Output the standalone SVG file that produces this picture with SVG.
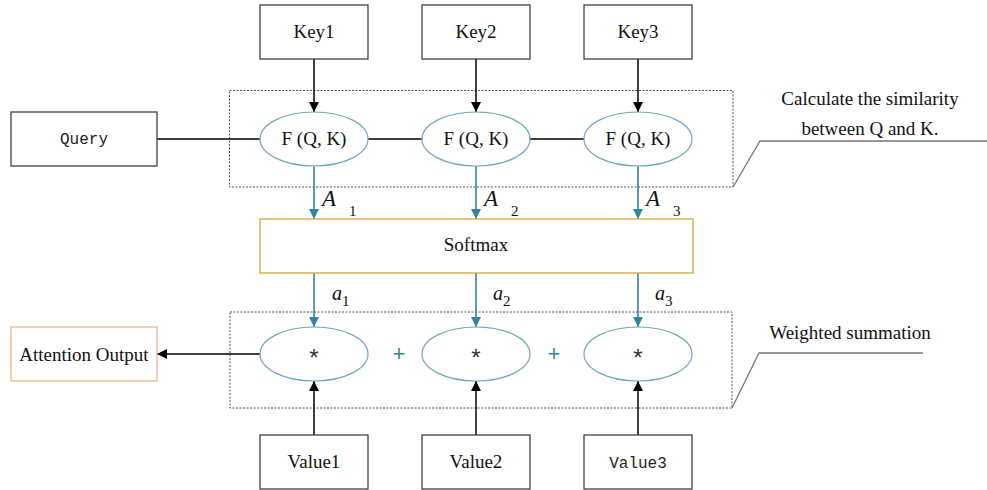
<svg xmlns="http://www.w3.org/2000/svg" width="987" height="490" viewBox="0 0 987 490">
<defs>
<marker id="ab" viewBox="0 0 10 10" refX="10" refY="5" markerWidth="10" markerHeight="10" markerUnits="userSpaceOnUse" orient="auto"><path d="M0,0 L10,5 L0,10 z" fill="#000"/></marker>
<marker id="at" viewBox="0 0 10 10" refX="10" refY="5" markerWidth="10" markerHeight="10" markerUnits="userSpaceOnUse" orient="auto"><path d="M0,0 L10,5 L0,10 z" fill="#31859C"/></marker>
</defs>
<style>
.box{fill:#fff;stroke:#404040;stroke-width:1.3}
.ell{fill:#fff;stroke:#6FA8BC;stroke-width:1.2}
.dash{fill:none;stroke:#555;stroke-width:1;stroke-dasharray:2,1.5}
.t{font-family:"Liberation Serif",serif;font-size:19px;fill:#111;text-anchor:middle}
.m{font-family:"Liberation Mono",monospace;font-size:16px;fill:#222;text-anchor:middle}
.k{stroke:#000;stroke-width:1.5;fill:none}
.c{stroke:#31859C;stroke-width:1.6;fill:none}
.it{font-family:"Liberation Serif",serif;font-style:italic;fill:#111}
.sub{font-family:"Liberation Serif",serif;font-size:15px;fill:#111}
.call{stroke:#777;stroke-width:1.3;fill:none}
.ast{font-family:"Liberation Mono",monospace;font-size:24px;fill:#333;text-anchor:middle}
.plus{font-family:"Liberation Sans",sans-serif;font-size:22px;fill:#31859C;text-anchor:middle}
</style>
<rect class="dash" x="229.5" y="90.5" width="503.5" height="96.5"/>
<rect class="dash" x="230" y="312" width="502" height="96"/>
<g id="connectors">
<path class="k" d="M314,59 V112" marker-end="url(#ab)"/>
<path class="k" d="M476,59 V112" marker-end="url(#ab)"/>
<path class="k" d="M638,59 V112" marker-end="url(#ab)"/>
<path class="k" d="M157,139 H260"/>
<path class="k" d="M368,139 H422"/>
<path class="k" d="M530,139 H584"/>
<path class="c" d="M314,166 V219" marker-end="url(#at)"/>
<path class="c" d="M476,166 V219" marker-end="url(#at)"/>
<path class="c" d="M638,166 V219" marker-end="url(#at)"/>
<path class="c" d="M314,273 V327" marker-end="url(#at)"/>
<path class="c" d="M476,273 V327" marker-end="url(#at)"/>
<path class="c" d="M638,273 V327" marker-end="url(#at)"/>
<path class="k" d="M260,354 H157" marker-end="url(#ab)"/>
<path class="k" d="M314,435 V381" marker-end="url(#ab)"/>
<path class="k" d="M476,435 V381" marker-end="url(#ab)"/>
<path class="k" d="M638,435 V381" marker-end="url(#ab)"/>
<path class="call" d="M733,187 L760,141 H987"/>
<path class="call" d="M732,408 L759,353 H923"/>
</g>
<g id="key1"><rect class="box" x="260" y="5" width="108" height="54"/><text class="t" x="314" y="38">Key1</text></g>
<g id="key2"><rect class="box" x="422" y="5" width="108" height="54"/><text class="t" x="476" y="38">Key2</text></g>
<g id="key3"><rect class="box" x="584" y="5" width="108" height="54"/><text class="t" x="638" y="38">Key3</text></g>
<g id="query"><rect class="box" x="11" y="112" width="146" height="54"/><text class="m" x="84" y="144">Query</text></g>
<g id="f1"><ellipse class="ell" cx="314" cy="139" rx="54" ry="27"/><text class="t" x="314" y="145" font-size="16">F (Q, K)</text></g>
<g id="f2"><ellipse class="ell" cx="476" cy="139" rx="54" ry="27"/><text class="t" x="476" y="145" font-size="16">F (Q, K)</text></g>
<g id="f3"><ellipse class="ell" cx="638" cy="139" rx="54" ry="27"/><text class="t" x="638" y="145" font-size="16">F (Q, K)</text></g>
<g id="softmax"><rect x="260" y="219" width="433" height="54" fill="#fff" stroke="#D4A83A" stroke-width="1.3"/><text class="t" x="476" y="251" font-size="17">Softmax</text></g>
<g id="labelsA">
<text class="it" x="322" y="206" font-size="23">A</text><text class="sub" x="349" y="216">1</text>
<text class="it" x="484" y="206" font-size="23">A</text><text class="sub" x="511" y="216">2</text>
<text class="it" x="646" y="206" font-size="23">A</text><text class="sub" x="673" y="216">3</text>
<text class="it" x="332" y="300" font-size="20">a</text><text class="sub" x="342" y="306" font-size="13">1</text>
<text class="it" x="493" y="300" font-size="20">a</text><text class="sub" x="503" y="306" font-size="13">2</text>
<text class="it" x="655" y="300" font-size="20">a</text><text class="sub" x="665" y="306" font-size="13">3</text>
</g>
<g id="m1"><ellipse class="ell" cx="314" cy="354" rx="54" ry="27"/><text class="ast" x="314" y="367">*</text></g>
<g id="m2"><ellipse class="ell" cx="476" cy="354" rx="54" ry="27"/><text class="ast" x="476" y="367">*</text></g>
<g id="m3"><ellipse class="ell" cx="638" cy="354" rx="54" ry="27"/><text class="ast" x="638" y="367">*</text></g>
<text class="plus" x="399" y="361">+</text>
<text class="plus" x="554" y="361">+</text>
<g id="output"><rect x="11" y="327" width="146" height="54" fill="#fff" stroke="#F4B183" stroke-width="1.3"/><text class="t" x="84" y="361" font-size="19.5">Attention Output</text></g>
<g id="value1"><rect class="box" x="260" y="435" width="108" height="54"/><text class="t" x="314" y="468">Value1</text></g>
<g id="value2"><rect class="box" x="422" y="435" width="108" height="54"/><text class="t" x="476" y="468">Value2</text></g>
<g id="value3"><rect class="box" x="584" y="435" width="108" height="54"/><text class="m" x="638" y="468">Value3</text></g>
<text class="t" x="870" y="105">Calculate the similarity</text>
<text class="t" x="870" y="135">between Q and K.</text>
<text class="t" x="850" y="339" font-size="20">Weighted summation</text>
</svg>
